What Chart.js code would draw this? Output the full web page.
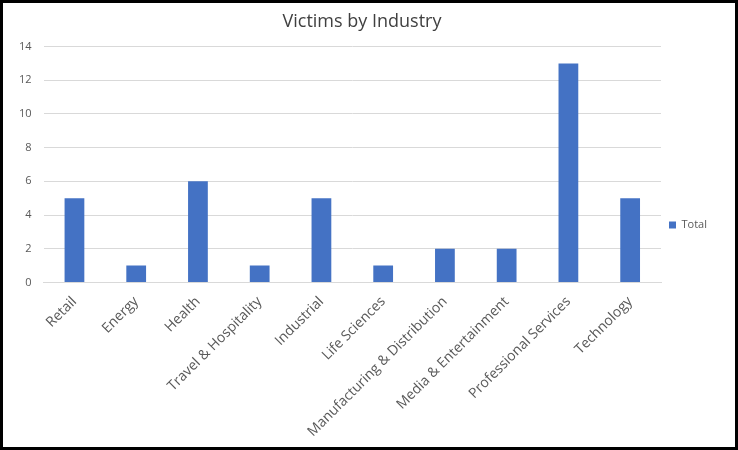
<!DOCTYPE html>
<html>
<head>
<meta charset="utf-8">
<script src="https://cdn.jsdelivr.net/npm/chart.js@4"></script>
<style>
  html, body { margin: 0; padding: 0; background: #fff; }
  #frame { width: 738px; height: 450px; box-sizing: border-box; border: 3px solid #000; padding: 4px 8px 4px 4px; }
</style>
</head>
<body>
<div id="frame"><canvas id="chart"></canvas></div>
<script>
const industries = ['Retail', 'Energy', 'Health', 'Travel & Hospitality', 'Industrial', 'Life Sciences',
    'Manufacturing & Distribution', 'Media & Entertainment', 'Professional Services', 'Technology'];
const totals = [5, 1, 6, 1, 5, 1, 2, 2, 13, 5];

document.addEventListener('DOMContentLoaded', function () {
    Chart.defaults.font.family = '"Open Sans", sans-serif';
    Chart.defaults.color = '#595959';

    const ctx = document.getElementById('chart').getContext('2d');
    new Chart(ctx, {
        type: 'bar',
        data: {
            labels: industries,
            datasets: [{
                label: 'Total',
                data: totals,
                backgroundColor: '#4472C4',
                barPercentage: 0.32,
                categoryPercentage: 1
            }]
        },
        options: {
            responsive: true,
            maintainAspectRatio: false,
            animation: false,
            layout: { padding: { top: 0, right: 10 } },
            plugins: {
                title: {
                    display: true,
                    text: 'Victims by Industry',
                    font: { size: 18, weight: 'normal' },
                    color: '#404040',
                    padding: { top: 4, bottom: 14 }
                },
                legend: {
                    position: 'right',
                    labels: { boxWidth: 7, boxHeight: 7, font: { size: 11 }, padding: 8 }
                },
                tooltip: { enabled: false }
            },
            scales: {
                x: {
                    grid: { display: false },
                    border: { color: '#d9d9d9' },
                    ticks: { maxRotation: 45, minRotation: 45, font: { size: 14 } }
                },
                y: {
                    min: 0,
                    max: 14,
                    ticks: { stepSize: 2, font: { size: 11 }, padding: 12 },
                    grid: { color: '#d9d9d9', drawTicks: false },
                    border: { display: false }
                }
            }
        }
    });
});
</script>
</body>
</html>
